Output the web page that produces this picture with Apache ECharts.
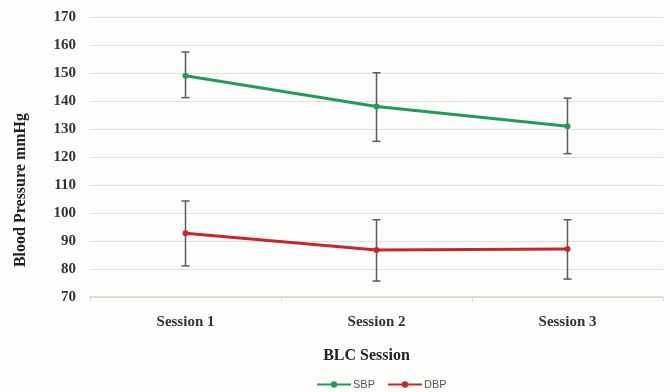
<!DOCTYPE html>
<html>
<head>
<meta charset="utf-8">
<script src="https://cdn.jsdelivr.net/npm/echarts@6/dist/echarts.min.js"></script>
<style>
html,body{margin:0;padding:0;background:#fdfdfb;}
#c{width:670px;height:392px;}
</style>
</head>
<body>
<div id="c"></div>
<script>
var categories = ['Session 1', 'Session 2', 'Session 3'];
var sbpMean = [149, 138, 131];
var sbpLow = [141.2, 125.6, 121.2];
var sbpHigh = [157.5, 150.1, 141];
var dbpMean = [92.8, 86.8, 87.1];
var dbpLow = [81.1, 75.7, 76.4];
var dbpHigh = [104.3, 97.6, 97.6];
var yTicks = [70, 80, 90, 100, 110, 120, 130, 140, 150, 160, 170];

var serif = '"Liberation Serif", "DejaVu Serif", serif';

function errData(low, high) {
  return categories.map(function (c, i) { return [i, low[i], high[i]]; });
}
function renderErr(params, api) {
  var i = api.value(0);
  var lo = api.coord([i, api.value(1)]);
  var hi = api.coord([i, api.value(2)]);
  var hw = 4;
  var st = { stroke: '#5a5a5a', lineWidth: 1.5 };
  return {
    type: 'group',
    children: [
      { type: 'line', shape: { x1: lo[0], y1: lo[1], x2: hi[0], y2: hi[1] }, style: st },
      { type: 'line', shape: { x1: lo[0] - hw, y1: lo[1], x2: lo[0] + hw, y2: lo[1] }, style: st },
      { type: 'line', shape: { x1: hi[0] - hw, y1: hi[1], x2: hi[0] + hw, y2: hi[1] }, style: st }
    ]
  };
}

var chart = echarts.init(document.getElementById('c'));
chart.setOption({
  backgroundColor: '#fdfdfb',
  animation: false,
  grid: { left: 90, right: 7, top: 17, bottom: 95 },
  legend: {
    top: 374,
    left: 311,
    itemWidth: 34,
    itemHeight: 8,
    itemGap: 12,
    textStyle: { fontFamily: '"Liberation Sans", Arial, sans-serif', fontSize: 11, color: '#555', padding: [0, 0, 0, -3] },
    data: ['SBP', 'DBP']
  },
  xAxis: {
    type: 'category',
    data: categories,
    boundaryGap: true,
    axisLine: { lineStyle: { color: '#d9d5d0', width: 1.5 } },
    axisTick: { show: true, length: 4, lineStyle: { color: '#d9d5d0' } },
    axisLabel: { fontFamily: serif, fontWeight: 'bold', fontSize: 15, color: '#333', margin: 18 },
    name: 'BLC Session',
    nameLocation: 'middle',
    nameGap: 51,
    nameTextStyle: { fontFamily: serif, fontWeight: 'bold', fontSize: 16, color: '#222', padding: [0, 20, 0, 0] }
  },
  yAxis: {
    type: 'value',
    min: yTicks[0],
    max: yTicks[yTicks.length - 1],
    interval: 10,
    axisLine: { show: false },
    axisTick: { show: false },
    splitLine: { lineStyle: { color: '#e2dedb', width: 1.2 } },
    axisLabel: { fontFamily: serif, fontWeight: 'bold', fontSize: 15, color: '#333', margin: 14 }
  },
  graphic: [{
    type: 'text',
    left: 13,
    top: 113,
    rotation: Math.PI / 2,
    style: {
      text: 'Blood Pressure mmHg',
      font: 'bold 16px ' + serif,
      fill: '#222'
    }
  }],
  series: [
    { name: 'SBP err', type: 'custom', renderItem: renderErr, data: errData(sbpLow, sbpHigh), z: 1, encode: { x: 0, y: [1, 2] } },
    { name: 'DBP err', type: 'custom', renderItem: renderErr, data: errData(dbpLow, dbpHigh), z: 1, encode: { x: 0, y: [1, 2] } },
    {
      name: 'SBP', type: 'line', data: sbpMean, z: 3,
      symbol: 'circle', symbolSize: 6,
      itemStyle: { color: '#24995a' },
      lineStyle: { color: '#24995a', width: 3 }
    },
    {
      name: 'DBP', type: 'line', data: dbpMean, z: 3,
      symbol: 'circle', symbolSize: 6,
      itemStyle: { color: '#c8262c' },
      lineStyle: { color: '#c8262c', width: 3 }
    }
  ]
});
</script>
</body>
</html>
